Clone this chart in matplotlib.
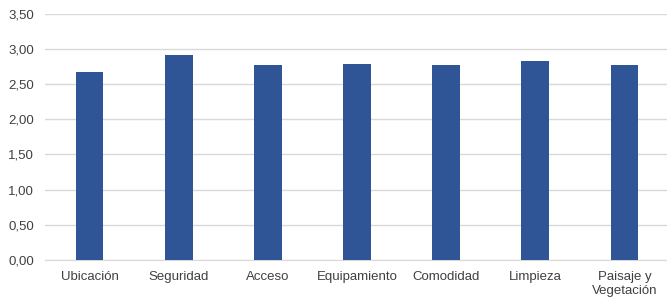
import numpy as np
import matplotlib.pyplot as plt

categories = ['Ubicación', 'Seguridad', 'Acceso', 'Equipamiento', 'Comodidad',
              'Limpieza', 'Paisaje y\nVegetación']
values = [2.67, 2.91, 2.77, 2.79, 2.77, 2.83, 2.77]
yticks = [0, 0.5, 1.0, 1.5, 2.0, 2.5, 3.0, 3.5]

plt.rcParams['font.family'] = ['Liberation Sans', 'DejaVu Sans']

fig = plt.figure(figsize=(6.67, 3.0), dpi=100)
ax = fig.add_axes([45/667, 40/300, 624/667, 246.5/300])

x = np.arange(len(categories))
ax.bar(x, values, width=0.31, color='#2f5597', zorder=3)

ax.set_xlim(-0.5, len(categories) - 0.5)
ax.set_ylim(0, 3.5)
ax.set_yticks(yticks)
ax.set_yticklabels([f'{v:.2f}'.replace('.', ',') for v in yticks])
ax.set_xticks(x)
ax.set_xticklabels(categories)
ax.tick_params(axis='both', length=0, labelsize=9.5, colors='#404040')
ax.tick_params(axis='x', pad=8)
ax.tick_params(axis='y', pad=8)
ax.grid(axis='y', color='#d9d9d9', linewidth=1, zorder=0)
for s in ['top', 'right', 'left']:
    ax.spines[s].set_visible(False)
ax.spines['bottom'].set_color('#d9d9d9')

fig.savefig('out.png', dpi=100)
